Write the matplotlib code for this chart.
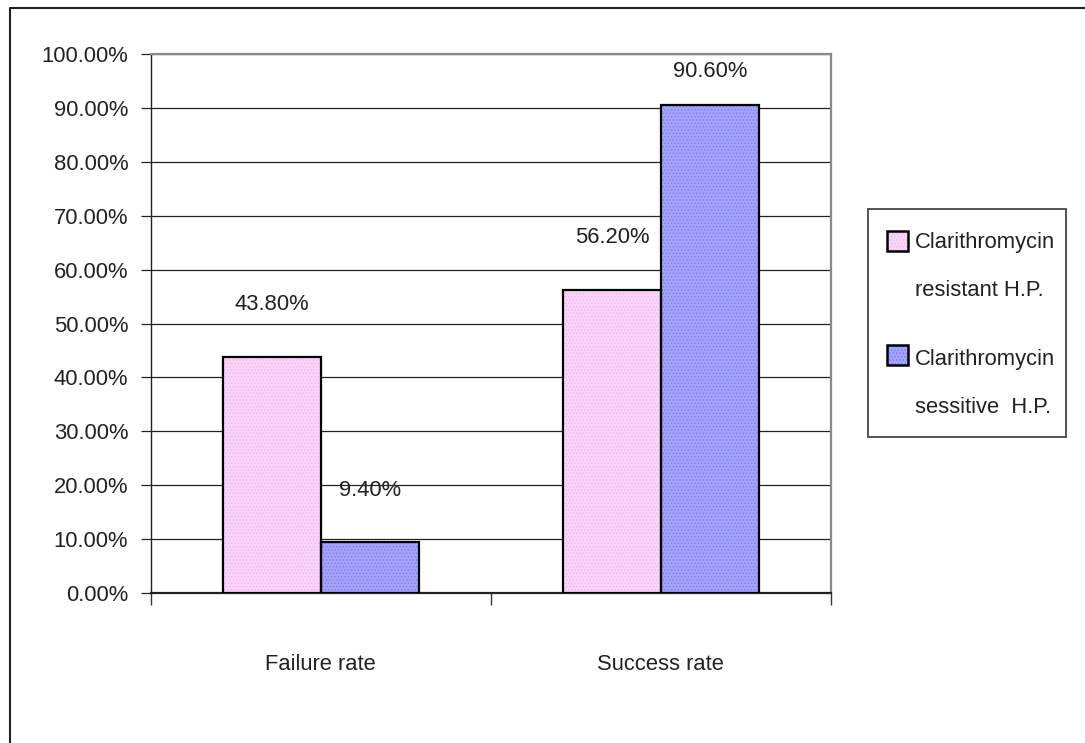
import matplotlib
matplotlib.use("Agg")
import matplotlib.pyplot as plt
from matplotlib.patches import Rectangle
from matplotlib.lines import Line2D
from matplotlib.ticker import FixedLocator

plt.rcParams['font.family'] = ['Liberation Sans', 'DejaVu Sans']
plt.rcParams['hatch.linewidth'] = 0.6

categories = ["Failure rate", "Success rate"]
series_names = ["Clarithromycin\nresistant H.P.", "Clarithromycin\nsessitive  H.P."]
resistant = [0.438, 0.562]
sensitive = [0.094, 0.906]
value_labels_res = ["43.80%", "56.20%"]
value_labels_sen = ["9.40%", "90.60%"]
yticks = [0.0, 0.1, 0.2, 0.3, 0.4, 0.5, 0.6, 0.7, 0.8, 0.9, 1.0]
ytick_labels = ["0.00%", "10.00%", "20.00%", "30.00%", "40.00%", "50.00%",
                "60.00%", "70.00%", "80.00%", "90.00%", "100.00%"]

W, H = 1085, 743
fig = plt.figure(figsize=(W / 100, H / 100), dpi=100)
fig.patch.set_facecolor('white')

ax = fig.add_axes([150.5 / W, 1 - 593 / H, (831 - 150.5) / W, (593 - 54) / H])
ax.set_xlim(-0.5, 1.5)
ax.set_ylim(0, 1)

fs = 15.8
bw = 0.288
x = list(range(len(categories)))
xr = [i - bw / 2 for i in x]
xs = [i + bw / 2 for i in x]

styles = [
    (resistant, xr, '#FBD4FA', '#F0B5EE', value_labels_res),
    (sensitive, xs, '#A4A4FF', '#7C7CE6', value_labels_sen),
]
for vals, pos, face, hc, labs in styles:
    ax.bar(pos, vals, width=bw, color=face, edgecolor=hc, hatch='.....',
           linewidth=0, zorder=3)
    ax.bar(pos, vals, width=bw, facecolor='none', edgecolor='black',
           linewidth=1.6, zorder=4)
    for p, v, t in zip(pos, vals, labs):
        ax.text(p, min(v + 0.097, 0.967), t, ha='center', va='center',
                fontsize=fs, color='#222222', zorder=5)

# grid
ax.set_yticks(yticks)
ax.set_yticklabels(ytick_labels, fontsize=fs, color='#222222')
ax.yaxis.grid(True, color='#222222', linewidth=0.9, zorder=1)
ax.set_axisbelow(True)
ax.tick_params(axis='y', length=7.5, width=0.9, pad=8.6, color='#222222')

ax.set_xticks(x)
ax.set_xticklabels(categories, fontsize=fs, color='#222222')
ax.tick_params(axis='x', which='major', length=0, pad=44)
ax.xaxis.set_minor_locator(FixedLocator([-0.5, 0.5, 1.5]))
ax.tick_params(axis='x', which='minor', length=8.6, width=1.0, color='#333333')

ax.spines['top'].set_color('#8a8a8a')
ax.spines['right'].set_color('#8a8a8a')
ax.spines['top'].set_linewidth(1.6)
ax.spines['right'].set_linewidth(1.6)
ax.spines['left'].set_color('#222222')
ax.spines['bottom'].set_color('#222222')
ax.spines['left'].set_linewidth(1.0)
ax.spines['bottom'].set_linewidth(1.6)

# outer chart border (top and left visible)
fig.add_artist(Line2D([10 / W, 10 / W, 1.0], [0.0, 1 - 7.5 / H, 1 - 7.5 / H],
                      transform=fig.transFigure, color='#222222', linewidth=1.5))

# legend (drawn manually to match Excel layout)
def fx(px):
    return px / W

def fy(py):
    return 1 - py / H

fig.add_artist(Rectangle((fx(868), fy(437)), fx(1066) - fx(868), fy(209) - fy(437),
                         transform=fig.transFigure, facecolor='white',
                         edgecolor='#444444', linewidth=1.3, zorder=5))
patch_centers = [241, 355]
text_baselines = [296, 413]
for (vals, pos, face, hc, labs), name, pc, tb in zip(styles, series_names,
                                                      patch_centers, text_baselines):
    fig.add_artist(Rectangle((fx(887), fy(pc + 10)), fx(908) - fx(887), fy(pc - 10) - fy(pc + 10),
                             transform=fig.transFigure, facecolor=face, edgecolor=hc,
                             hatch='.....', linewidth=0, zorder=6))
    fig.add_artist(Rectangle((fx(887), fy(pc + 10)), fx(908) - fx(887), fy(pc - 10) - fy(pc + 10),
                             transform=fig.transFigure, facecolor='none', edgecolor='black',
                             linewidth=1.8, zorder=7))
    fig.text(fx(915), fy(tb), name, ha='left', va='baseline', fontsize=fs,
             color='#222222', linespacing=2.7, zorder=8,
             transform=fig.transFigure)

fig.savefig("out.png", dpi=100, facecolor='white')
